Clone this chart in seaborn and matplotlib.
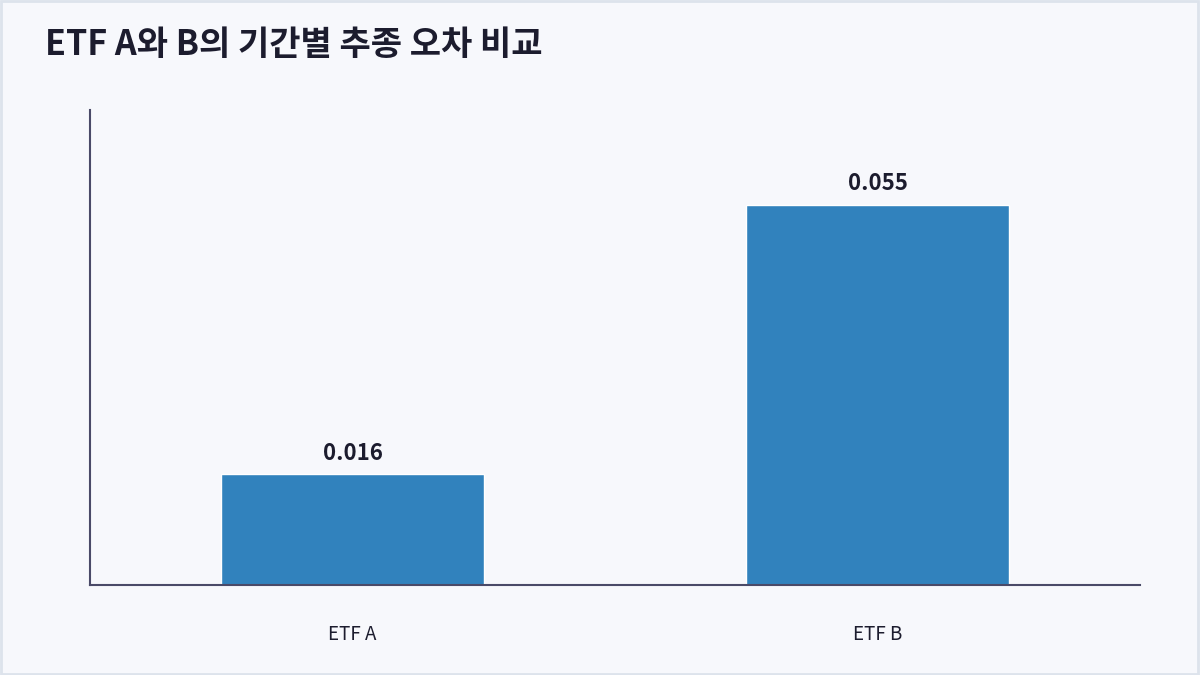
import matplotlib
matplotlib.use("Agg")
import matplotlib.pyplot as plt
import seaborn as sns
import pandas as pd
from matplotlib.patches import Rectangle

# data
etf_names = ["ETF A", "ETF B"]
tracking_error = [0.016, 0.055]

title = "ETF A와 B의 기간별 추종 오차 비교"

bg = "#f7f8fc"
bar_color = "#3182bd"
axis_color = "#4a4a68"
text_color = "#1c1c2e"

sns.set_theme(style="white")
plt.rcParams["font.family"] = ["Noto Sans CJK KR", "DejaVu Sans"]

df = pd.DataFrame({"etf": etf_names, "error": tracking_error})

fig = plt.figure(figsize=(12, 6.75), dpi=100, facecolor=bg)
ax = fig.add_axes([0.075, 0.1333, 0.875, 0.7037])
ax.set_facecolor(bg)

sns.barplot(data=df, x="etf", y="error", color=bar_color, width=0.5,
            saturation=1, ax=ax)

ax.set_xlim(-0.5, 1.5)
ax.set_ylim(0, max(tracking_error) * 1.25)

# value labels
for i, v in enumerate(tracking_error):
    ax.annotate(f"{v:.3f}", (i, v), xytext=(0, 7), textcoords="offset points",
                ha="center", va="bottom", fontsize=16, fontweight="bold",
                color=text_color)

ax.set_yticks([])
ax.set_xlabel("")
ax.set_ylabel("")
ax.tick_params(axis="x", length=0, pad=28, labelsize=13.5, labelcolor=text_color)
for lbl in ax.get_xticklabels():
    lbl.set_fontweight("medium")

for side in ["top", "right"]:
    ax.spines[side].set_visible(False)
for side in ["left", "bottom"]:
    ax.spines[side].set_color(axis_color)
    ax.spines[side].set_linewidth(1.5)

fig.text(45 / 1200, 1 - 45 / 675, title, fontsize=24.5, fontweight="bold",
         color=text_color, ha="left", va="center")

# outer frame
fig.patches.append(Rectangle((0.001, 0.002), 0.997, 0.996, transform=fig.transFigure,
                             fill=False, edgecolor="#dde3ec", linewidth=2))

fig.savefig("out.png", dpi=100, facecolor=bg)
